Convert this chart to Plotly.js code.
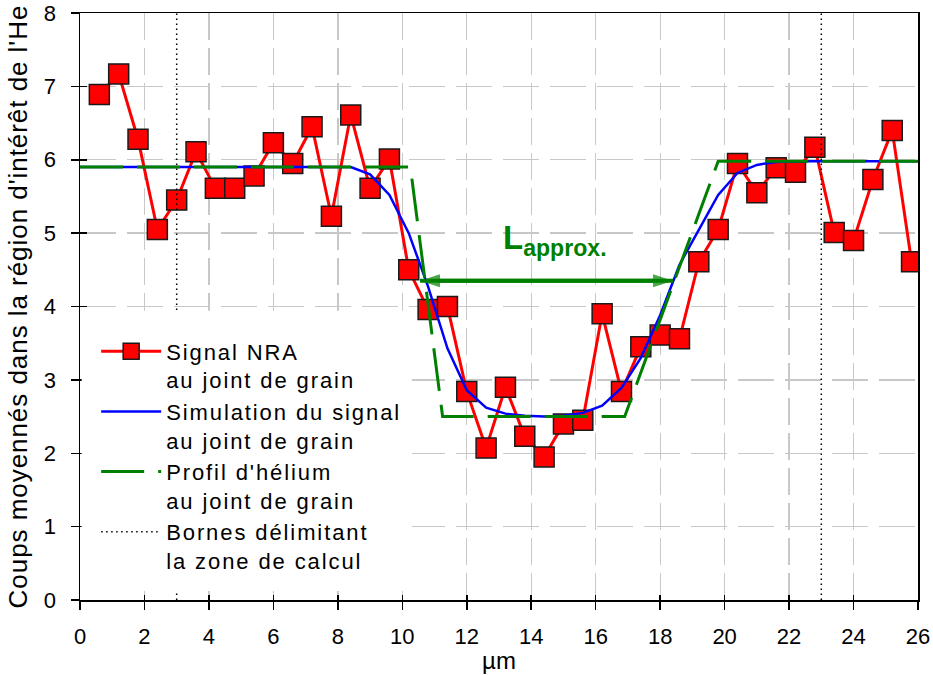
<!DOCTYPE html>
<html>
<head>
<meta charset="utf-8">
<script src="https://cdn.plot.ly/plotly-3.0.1.min.js"></script>
<style>
  html, body { margin: 0; padding: 0; background: #ffffff; }
  #chart { width: 933px; height: 675px; }
  .legendtext { letter-spacing: 1.9px; }
  .ytitle { letter-spacing: 0.95px; }
</style>
</head>
<body>
<div id="chart"></div>
<script>
// ---- Data ----
const nraX = [0.6, 1.2, 1.8, 2.4, 3.0, 3.6, 4.2, 4.8, 5.4, 6.0, 6.6, 7.2, 7.8, 8.4, 9.0,
              9.6, 10.2, 10.8, 11.4, 12.0, 12.6, 13.2, 13.8, 14.4, 15.0, 15.6, 16.2, 16.8,
              17.4, 18.0, 18.6, 19.2, 19.8, 20.4, 21.0, 21.6, 22.2, 22.8, 23.4, 24.0, 24.6,
              25.2, 25.8];
const nraY = [6.89, 7.17, 6.28, 5.05, 5.45, 6.11, 5.61, 5.61, 5.78, 6.23, 5.95, 6.45, 5.23, 6.61, 5.61,
              6.01, 4.50, 3.96, 4.00, 2.84, 2.07, 2.90, 2.23, 1.95, 2.40, 2.45, 3.90, 2.84,
              3.45, 3.61, 3.56, 4.61, 5.05, 5.95, 5.55, 5.89, 5.83, 6.17, 5.01, 4.90, 5.73,
              6.40, 4.61];

const simX = [0, 8.4, 9.0, 9.6, 10.2, 10.8, 11.4, 12.0, 12.6, 13.2, 13.8, 14.4, 15.0, 15.6,
              16.2, 16.8, 17.4, 18.0, 18.6, 19.2, 19.8, 20.4, 21.0, 21.6, 22.2, 26];
const simY = [5.90, 5.90, 5.80, 5.52, 5.00, 4.27, 3.43, 2.86, 2.62, 2.54, 2.51, 2.50, 2.51, 2.55,
              2.65, 2.89, 3.30, 3.88, 4.57, 5.05, 5.52, 5.82, 5.93, 5.97, 5.98, 5.98];

const heX = [0, 10.25, 11.25, 16.9, 19.8, 26];
const heY = [5.90, 5.90, 2.50, 2.50, 5.98, 5.98];

const bornes = [3, 23];
const yLimits = [0, 8];
const xLimits = [0, 26];

const arrowY = 4.35;
const arrowFrom = 10.55;
const arrowTo = 18.4;
const labelX = 14.75;
const labelY = 4.9;

const xTicks = [0, 2, 4, 6, 8, 10, 12, 14, 16, 18, 20, 22, 24, 26];
const yTicks = [0, 1, 2, 3, 4, 5, 6, 7, 8];

const names = [
  'Signal NRA<br>au joint de grain',
  'Simulation du signal<br>au joint de grain',
  "Profil d'hélium<br>au joint de grain",
  'Bornes délimitant<br>la zone de calcul'
];

// ---- Build the chart ----
const FONT = 'Liberation Sans, Arial, Helvetica, sans-serif';
const GREEN = '#008000';

const boundX = [], boundY = [];
bornes.forEach((b, i) => {
  if (i > 0) { boundX.push(null); boundY.push(null); }
  boundX.push(b, b); boundY.push(yLimits[0], yLimits[1]);
});

const traces = [
  {
    x: nraX, y: nraY, type: 'scatter', mode: 'lines+markers', name: names[0],
    line: { color: '#ff0000', width: 3 },
    marker: { symbol: 'square', size: 20, color: '#ff0000', line: { color: '#1a1a1a', width: 1.5 } }
  },
  {
    x: simX, y: simY, type: 'scatter', mode: 'lines', name: names[1],
    line: { color: '#0000ff', width: 2.5 }
  },
  {
    x: heX, y: heY, type: 'scatter', mode: 'lines', name: names[2],
    line: { color: GREEN, width: 3, dash: '43px,14px' }
  },
  {
    x: boundX, y: boundY, type: 'scatter', mode: 'lines', name: names[3],
    line: { color: '#000000', width: 1.5, dash: '1.5px,3.5px' }
  },
  {
    // double-headed arrow for L approx.
    x: [arrowTo, arrowFrom, arrowTo], y: [arrowY, arrowY, arrowY],
    type: 'scatter', mode: 'lines+markers', showlegend: false, hoverinfo: 'skip',
    line: { color: GREEN, width: 4 },
    marker: { symbol: 'arrow', angleref: 'previous', size: [0, 21, 21], color: GREEN,
              line: { width: 0 } }
  },
  {
    // invisible anchor trace so the overlay axes (inner tick halves) are drawn
    x: [xLimits[0]], y: [yLimits[0]], xaxis: 'x2', yaxis: 'y2', type: 'scatter', mode: 'markers',
    marker: { opacity: 0, size: 1 }, showlegend: false, hoverinfo: 'skip'
  }
];

const tickCommon = { ticklen: 8, tickwidth: 1.5, tickcolor: '#000000' };

const layout = {
  width: 933, height: 675,
  margin: { l: 80, r: 15, t: 13, b: 75 },
  paper_bgcolor: '#ffffff', plot_bgcolor: '#ffffff',
  font: { family: FONT, color: '#000000', size: 22 },
  showlegend: true,
  xaxis: Object.assign({
    range: xLimits, tickvals: xTicks, ticktext: xTicks.map(String),
    showline: true, linecolor: '#000000', linewidth: 1.5, mirror: true,
    ticks: 'outside', ticklabelstandoff: 8,
    showgrid: true, gridcolor: '#c8c8c8', gridwidth: 1.3, griddash: '27px,8px',
    zeroline: false,
    tickfont: { family: FONT, size: 22, color: '#000000' },
    title: { text: 'µm', font: { family: FONT, size: 24, color: '#000000' }, standoff: 4 }
  }, tickCommon),
  yaxis: Object.assign({
    range: yLimits, tickvals: yTicks, ticktext: yTicks.map(String),
    showline: true, linecolor: '#000000', linewidth: 1.5, mirror: true,
    ticks: 'outside', ticklabelstandoff: 10,
    showgrid: true, gridcolor: '#c8c8c8', gridwidth: 1.3, griddash: '36px,11px',
    zeroline: false,
    tickfont: { family: FONT, size: 22, color: '#000000' },
    title: { text: "Coups moyennés dans la région d'intérêt de l'He",
             font: { family: FONT, size: 26, color: '#000000' }, standoff: 8 }
  }, tickCommon),
  // inner halves of the crossing tick marks
  xaxis2: {
    overlaying: 'x', anchor: 'y2', side: 'bottom', range: xLimits, tickvals: xTicks,
    ticks: 'inside', ticklen: 5, tickwidth: 1.5, tickcolor: '#000000',
    showticklabels: false, showgrid: false, showline: false, zeroline: false
  },
  yaxis2: {
    overlaying: 'y', anchor: 'x2', side: 'left', range: yLimits, tickvals: yTicks,
    ticks: 'inside', ticklen: 7, tickwidth: 1.5, tickcolor: '#000000',
    showticklabels: false, showgrid: false, showline: false, zeroline: false
  },
  legend: {
    x: 0.0193, y: 0.4593, xanchor: 'left', yanchor: 'top',
    bgcolor: 'rgba(255,255,255,0)', borderwidth: 0,
    font: { family: FONT, size: 22, color: '#000000' },
    itemwidth: 60, valign: 'top', tracegroupgap: 0
  },
  shapes: [
    { // white background of the legend area
      type: 'rect', xref: 'paper', yref: 'paper', layer: 'above',
      x0: 0.002, x1: 0.396, y0: 0.0153, y1: 0.4926,
      fillcolor: '#ffffff', line: { width: 0 }
    }
  ],
  annotations: [
    {
      x: labelX, y: labelY, xref: 'x', yref: 'y', showarrow: false,
      text: '<b>L<sub>approx.</sub></b>',
      font: { family: FONT, size: 33, color: GREEN },
      xanchor: 'center', yanchor: 'middle'
    }
  ]
};

Plotly.newPlot('chart', traces, layout, { displayModeBar: false, staticPlot: true });
</script>
</body>
</html>
